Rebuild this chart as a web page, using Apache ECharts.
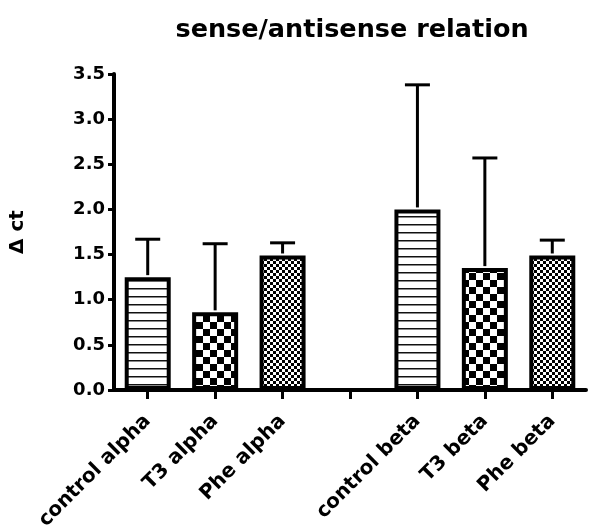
<!DOCTYPE html>
<html>
<head>
<meta charset="utf-8">
<script src="https://cdn.jsdelivr.net/npm/echarts@6/dist/echarts.min.js"></script>
<style>html,body{margin:0;padding:0;background:#fff;}#c{width:591px;height:525px;}</style>
</head>
<body>
<div id="c"></div>
<script>
const categories = ['control alpha', 'T3 alpha', 'Phe alpha', '', 'control beta', 'T3 beta', 'Phe beta'];
const means = [1.25, 0.86, 1.49, null, 2.0, 1.35, 1.49];
const errors = [0.42, 0.76, 0.14, null, 1.38, 1.22, 0.17];
const patterns = ['lines', 'checker', 'fine', null, 'lines', 'checker', 'fine'];
const yTicks = [0, 0.5, 1.0, 1.5, 2.0, 2.5, 3.0, 3.5];

function makePattern(kind) {
  const c = document.createElement('canvas');
  const g = c.getContext('2d');
  if (kind === 'lines') {
    c.width = 8; c.height = 8;
    g.fillStyle = '#fff'; g.fillRect(0, 0, 8, 8);
    g.fillStyle = '#111'; g.fillRect(0, 0, 8, 1);
    g.fillStyle = '#888'; g.fillRect(0, 1, 8, 1);
  } else if (kind === 'checker') {
    c.width = 14; c.height = 14;
    g.fillStyle = '#fff'; g.fillRect(0, 0, 14, 14);
    g.fillStyle = '#000'; g.fillRect(0, 0, 7, 7); g.fillRect(7, 7, 7, 7);
  } else {
    c.width = 6; c.height = 6;
    g.fillStyle = '#fff'; g.fillRect(0, 0, 6, 6);
    g.fillStyle = '#000'; g.fillRect(0, 0, 3, 3); g.fillRect(3, 3, 3, 3);
  }
  return { image: c, repeat: 'repeat' };
}

const barData = means.map((v, i) => v === null ? null : {
  value: v,
  itemStyle: { color: makePattern(patterns[i]), borderColor: '#000', borderWidth: 4 }
});
const errData = means.map((v, i) => v === null ? null : [i, v, v + errors[i]]).filter(d => d);

const FONT = 'DejaVu Sans';
const chart = echarts.init(document.getElementById('c'));
chart.setOption({
  animation: false,
  backgroundColor: '#fff',
  title: {
    text: 'sense/antisense relation',
    left: 347, top: 12, textAlign: 'center',
    textStyle: { fontFamily: FONT, fontWeight: 'bold', fontSize: 25.5, color: '#000' }
  },
  grid: { left: 114, right: 5, top: 74, bottom: 135, containLabel: false, outerBoundsMode: 'none' },
  xAxis: {
    type: 'category',
    data: categories,
    axisLine: { lineStyle: { color: '#000', width: 4 } },
    axisTick: { show: true, alignWithLabel: true, interval: 0, length: 9, lineStyle: { color: '#000', width: 3 } },
    axisLabel: { interval: 0, rotate: 45, margin: 28, color: '#000', fontFamily: FONT, fontWeight: 'bold', fontSize: 20 },
    splitLine: { show: false }
  },
  yAxis: {
    type: 'value',
    min: yTicks[0], max: yTicks[yTicks.length - 1], interval: 0.5,
    name: 'Δ ct',
    nameLocation: 'middle',
    nameGap: 86,
    nameRotate: 90,
    nameTextStyle: { fontFamily: FONT, fontWeight: 'bold', fontSize: 20, color: '#000' },
    axisLine: { show: true, lineStyle: { color: '#000', width: 4 } },
    axisTick: { show: true, length: 6, lineStyle: { color: '#000', width: 3 } },
    axisLabel: { margin: 9, color: '#000', fontFamily: FONT, fontWeight: 'bold', fontSize: 18, formatter: v => v.toFixed(1) },
    splitLine: { show: false }
  },
  series: [
    {
      type: 'bar',
      data: barData,
      barWidth: 46,
      z: 2
    },
    {
      type: 'custom',
      z: 3,
      data: errData,
      renderItem: function (params, api) {
        const x = api.value(0);
        const base = api.coord([x, api.value(1)]);
        const top = api.coord([x, api.value(2)]);
        const hw = 12.5;
        const style = { stroke: '#000', lineWidth: 3 };
        return {
          type: 'group',
          children: [
            { type: 'line', shape: { x1: base[0], y1: base[1] - 2, x2: top[0], y2: top[1] }, style: style },
            { type: 'line', shape: { x1: top[0] - hw, y1: top[1], x2: top[0] + hw, y2: top[1] }, style: style }
          ]
        };
      }
    }
  ]
});
</script>
</body>
</html>
